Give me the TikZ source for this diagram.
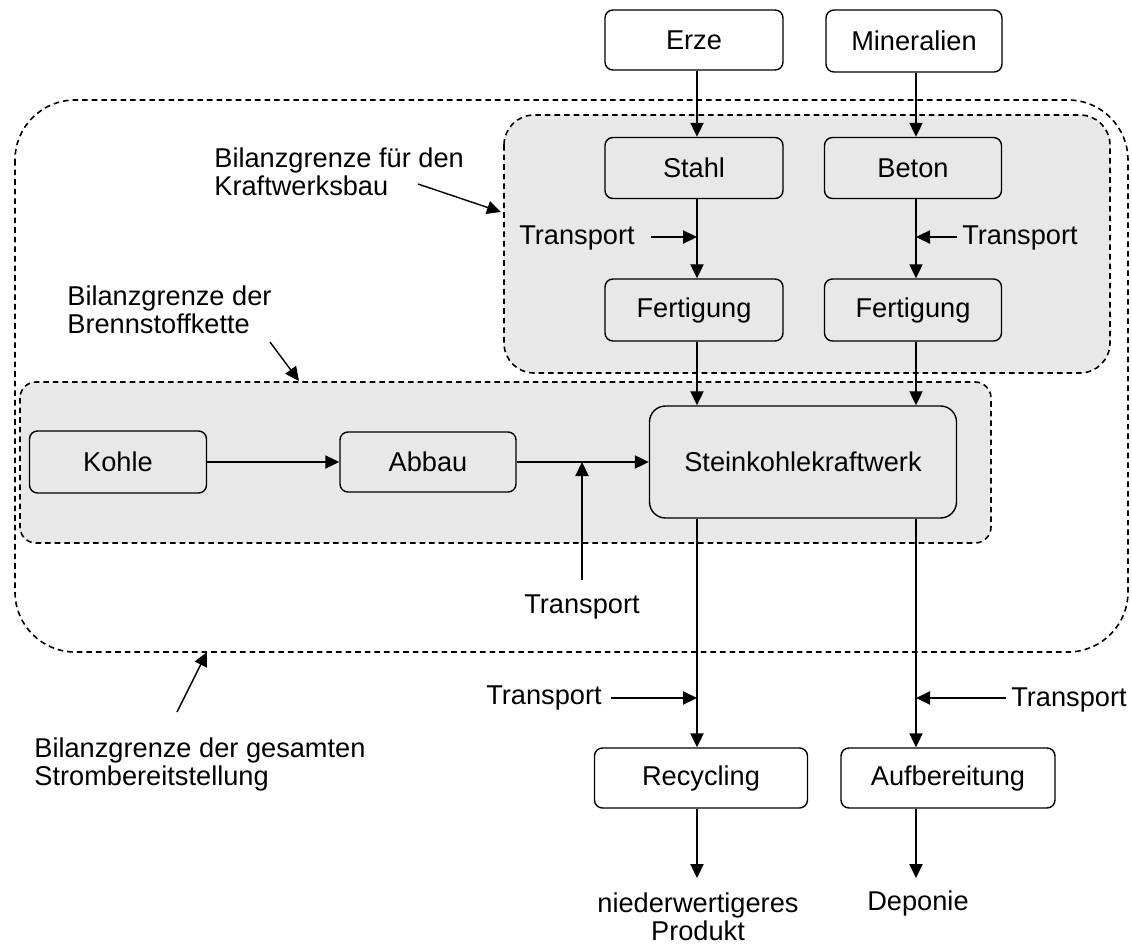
\documentclass[tikz,border=0pt]{standalone}
\usepackage{fontspec}
\setmainfont{Liberation Sans}
\usetikzlibrary{arrows.meta}
\begin{document}
\begin{tikzpicture}[x=0.5pt,y=-0.5pt,
  font=\fontsize{13.6}{14}\selectfont,
  box/.style={draw, line width=0.7pt, rounded corners=4pt, inner sep=0pt},
  lbl/.style={inner sep=0pt},
  arr/.style={line width=0.7pt, -{Triangle[length=7pt,width=6.6pt]}},
  boundary/.style={line width=0.8pt, dash pattern=on 2.8pt off 2pt},
  region/.style={boundary, fill=black!9}]
\useasboundingbox (0,0) rectangle (1132,947);

% system boundaries
\draw[boundary, rounded corners=30pt] (15,100) rectangle (1128,652);
\draw[region, rounded corners=15pt] (504,115) rectangle (1110,373);
\draw[region, rounded corners=8pt] (20,382) rectangle (991,543);

% columns of the vertical flows
\coordinate (colA) at (697,0);
\coordinate (colB) at (916,0);

% process boxes
\node[box, minimum width=89pt, minimum height=30pt] (erze)  at (694,40)  {Erze};
\node[box, minimum width=88pt, minimum height=31pt] (miner) at (914,41)  {Mineralien};
\node[box, minimum width=89pt, minimum height=30.5pt] (stahl) at (694,168) {Stahl};
\node[box, minimum width=88.5pt, minimum height=30.5pt] (beton) at (913,168) {Beton};
\node[box, minimum width=89pt, minimum height=31pt] (fert1) at (694,310) {Fertigung};
\node[box, minimum width=88.5pt, minimum height=31pt] (fert2) at (913,310) {Fertigung};
\node[box, minimum width=88.5pt, minimum height=31pt] (kohle) at (118,462) {Kohle};
\node[box, minimum width=88pt, minimum height=30pt] (abbau) at (428,462) {Abbau};
\node[box, rounded corners=8pt, minimum width=153.5pt, minimum height=56pt] (skw) at (803,462) {Steinkohlekraftwerk};
\node[box, minimum width=106.5pt, minimum height=30pt] (recyc) at (701,778) {Recycling};
\node[box, minimum width=107pt, minimum height=30pt] (aufb)  at (948,778) {Aufbereitung};

% outputs
\node[lbl, align=center] (produkt) at (698,917) {niederwertigeres\\Produkt};
\node[lbl] (deponie) at (918,903) {Deponie};
\coordinate (endA) at (697,878);
\coordinate (endB) at (916,878);

% material flows
\draw[arr] (erze.south -| colA) -- (stahl.north -| colA);
\draw[arr] (miner.south -| colB) -- (beton.north -| colB);
\draw[arr] (stahl.south -| colA) -- (fert1.north -| colA);
\draw[arr] (beton.south -| colB) -- (fert2.north -| colB);
\draw[arr] (fert1.south -| colA) -- (skw.north -| colA);
\draw[arr] (fert2.south -| colB) -- (skw.north -| colB);
\draw[arr] (kohle.east) -- (abbau.west);
\draw[arr] (abbau.east) -- (skw.west |- abbau.east);
\draw[arr] (skw.south -| colA) -- (recyc.north -| colA);
\draw[arr] (skw.south -| colB) -- (aufb.north -| colB);
\draw[arr] (recyc.south -| colA) -- (endA);
\draw[arr] (aufb.south -| colB) -- (endB);

% transport inputs
\node[lbl] (trA) at (577,238) {Transport};
\coordinate (tA) at (651,237);
\draw[arr] (tA) -- (tA -| colA);
\node[lbl] (trB) at (1020,238) {Transport};
\coordinate (tB) at (957,237);
\draw[arr] (tB) -- (tB -| colB);
\node[lbl] (trC) at (582,607) {Transport};
\coordinate (tC) at (582,580);
\draw[arr] (tC) -- (tC |- abbau.east);
\node[lbl] (trD) at (544,698) {Transport};
\coordinate (tD) at (611,698);
\draw[arr] (tD) -- (tD -| colA);
\node[lbl] (trE) at (1069,700) {Transport};
\coordinate (tE) at (1006,698);
\draw[arr] (tE) -- (tE -| colB);

% boundary annotations
\node[lbl, anchor=west, align=left] (bgK) at (214,172) {Bilanzgrenze für den\\Kraftwerksbau};
\coordinate (bgKa) at (418,184);
\coordinate (bgKb) at (501,212);
\draw[arr] (bgKa) -- (bgKb);
\node[lbl, anchor=west, align=left] (bgB) at (67,310) {Bilanzgrenze der\\Brennstoffkette};
\coordinate (bgBa) at (270,342);
\coordinate (bgBb) at (299,381);
\draw[arr] (bgBa) -- (bgBb);
\node[lbl, anchor=west, align=left] (bgS) at (34,764) {Bilanzgrenze der gesamten\\Strombereitstellung};
\coordinate (bgSa) at (177,712);
\coordinate (bgSb) at (207,652);
\draw[arr] (bgSa) -- (bgSb);
\end{tikzpicture}
\end{document}
